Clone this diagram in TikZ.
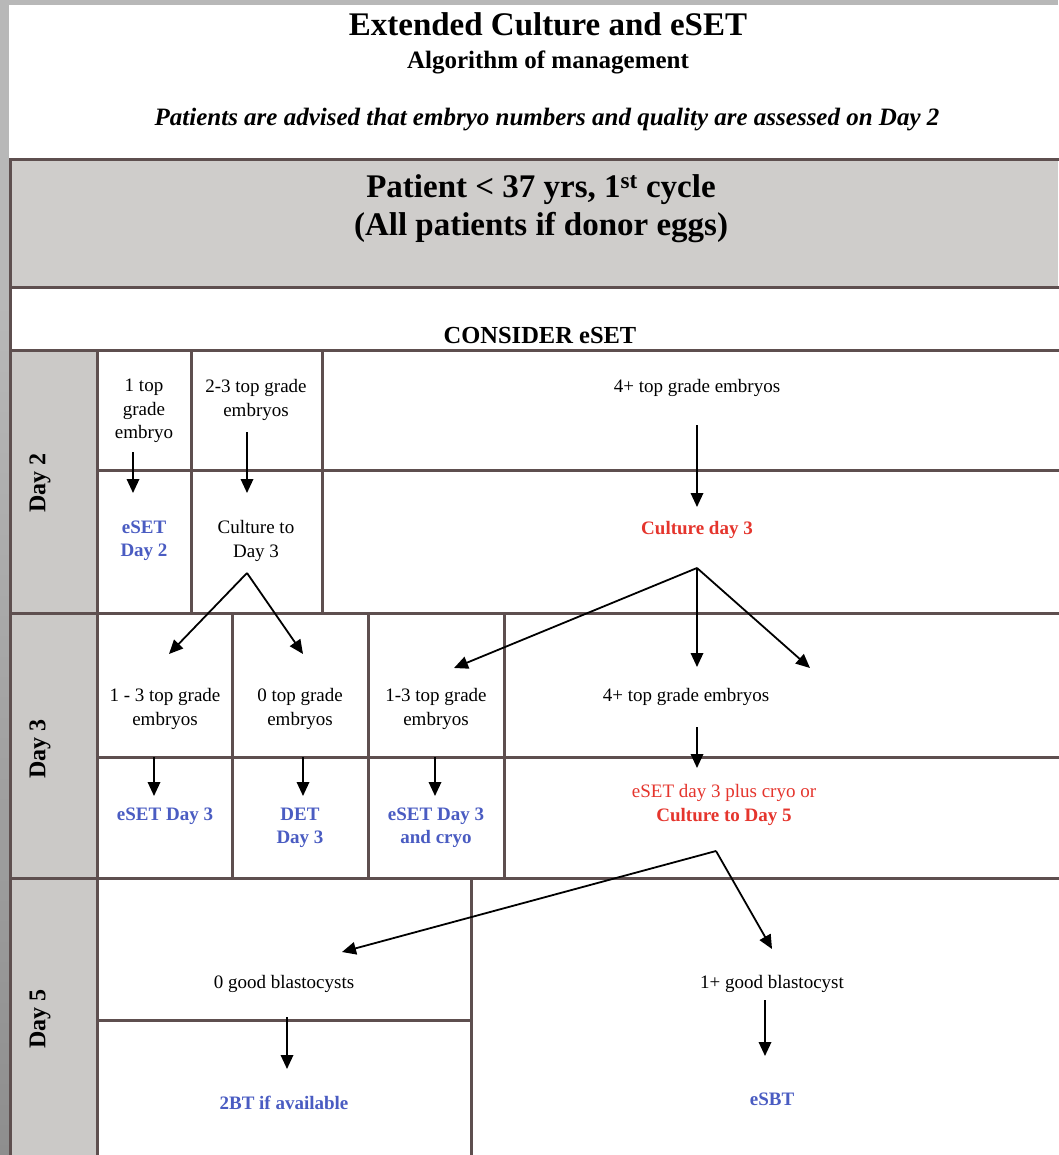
\documentclass[tikz,border=0pt]{standalone}
\usepackage{fontspec}
\setmainfont{Liberation Serif}
\usetikzlibrary{arrows.meta}
\definecolor{gridline}{HTML}{5E4F4F}
\definecolor{hdrgrey}{HTML}{CFCDCB}
\definecolor{daygrey}{HTML}{CBC9C7}
\definecolor{txtblue}{HTML}{4A5CC2}
\definecolor{txtred}{HTML}{E5352D}
\definecolor{framegrey}{HTML}{B8B8B8}
\definecolor{framedark}{HTML}{8E8E8E}
\begin{document}
\begin{tikzpicture}[x=1pt,y=-1pt,
  gridl/.style={draw=gridline,line width=3pt,line cap=rect},
  cell/.style={font=\fontsize{19}{23.5}\selectfont,align=center,inner sep=0pt},
  act/.style={cell,font=\fontsize{19}{23.5}\selectfont\bfseries,text=txtblue},
  redact/.style={cell,text=txtred},
  arr/.style={-{Triangle[length=14pt,width=12.5pt]},line width=1.8pt,black},
  daylab/.style={font=\fontsize{24}{28}\selectfont\bfseries,rotate=90,inner sep=0pt}
]
\useasboundingbox (0,0) rectangle (1058,1155);
% frame
\fill[framegrey] (0,0) rectangle (1058,1155);
\shade[top color=framegrey, bottom color=framedark] (0,300) rectangle (9,1155);
\fill[white] (9,5) rectangle (1058,1155);
% fills
\fill[hdrgrey] (10,160) rectangle (1058,288);
\fill[daygrey] (10,350) rectangle (97,1155);
% grid lines
\draw[gridl] (10,160) -- (1058,160);
\draw[gridl] (10,288) -- (1058,288);
\draw[gridl] (10,350) -- (1058,350);
\draw[gridl] (97,470) -- (1058,470);
\draw[gridl] (10,613) -- (1058,613);
\draw[gridl] (97,757) -- (1058,757);
\draw[gridl] (10,878) -- (1058,878);
\draw[gridl] (97,1020) -- (471,1020);
\draw[gridl] (10,160) -- (10,1155);
\draw[gridl] (97,350) -- (97,1155);
\draw[gridl] (191,350) -- (191,613);
\draw[gridl] (322,350) -- (322,613);
\draw[gridl] (232,613) -- (232,878);
\draw[gridl] (368,613) -- (368,878);
\draw[gridl] (504,613) -- (504,878);
\draw[gridl] (471,878) -- (471,1155);
% titles
\node[anchor=base,inner sep=0pt,font=\fontsize{33}{38}\selectfont\bfseries] (title) at (548,36) {Extended Culture and eSET};
\node[anchor=base,inner sep=0pt,font=\fontsize{25}{30}\selectfont\bfseries] (subtitle) at (548,69) {Algorithm of management};
\node[anchor=base,inner sep=0pt,font=\fontsize{25}{30}\selectfont\bfseries\itshape] (advice) at (547,126) {Patients are advised that embryo numbers and quality are assessed on Day 2};
\node[anchor=base,inner sep=0pt,font=\fontsize{33}{38}\selectfont\bfseries] (patient) at (541,198) {Patient < 37 yrs, 1\textsuperscript{st} cycle};
\node[anchor=base,inner sep=0pt,font=\fontsize{33}{38}\selectfont\bfseries] (donor) at (541,236) {(All patients if donor eggs)};
\node[anchor=base,inner sep=0pt,font=\fontsize{24.5}{29}\selectfont\bfseries] (consider) at (540,343) {CONSIDER eSET};
% day labels
\node[daylab] (d2) at (40,483) {Day 2};
\node[daylab] (d3) at (40,749) {Day 3};
\node[daylab] (d5) at (40,1019) {Day 5};
% day 2
\node[cell] (onetop) at (144,411) {1 top\\grade\\embryo};
\node[cell] (twothree) at (256,400) {2-3 top grade\\embryos};
\node[cell] (fourplus) at (697,388) {4+ top grade embryos};
\node[act] (esetd2) at (144,541) {eSET\\Day 2};
\node[cell] (cult3) at (256,541) {Culture to\\Day 3};
\node[redact,font=\fontsize{19}{23.5}\selectfont\bfseries] (cultday3) at (697,530) {Culture day 3};
% day 3
\node[cell] (onethreeA) at (165,709) {1 - 3 top grade\\embryos};
\node[cell] (zerotop) at (300,709) {0 top grade\\embryos};
\node[cell] (onethreeB) at (436,709) {1-3 top grade\\embryos};
\node[cell] (fourplusB) at (686,697) {4+ top grade embryos};
\node[act] (esetd3) at (165,816) {eSET Day 3};
\node[act] (det3) at (300,828) {DET\\Day 3};
\node[act] (esetcryo) at (436,828) {eSET Day 3\\and cryo};
\node[redact] (plus) at (724,805) {eSET day 3 plus cryo or\\\textbf{Culture to Day 5}};
% day 5
\node[cell] (zerogood) at (284,984) {0 good blastocysts};
\node[cell] (onegood) at (772,984) {1+ good blastocyst};
\node[act] (twobt) at (284,1103) {2BT if available};
\node[act] (esbt) at (772,1099) {eSBT};
% connector coordinates
\coordinate (a1s) at (133,452); \coordinate (a1e) at (133,493);
\coordinate (a2s) at (247,432); \coordinate (a2e) at (247,493);
\coordinate (a3s) at (697,425); \coordinate (a3e) at (697,507);
\coordinate (apexA) at (247,573);
\coordinate (bA1) at (169,654); \coordinate (bA2) at (303,654);
\coordinate (apexB) at (697,568);
\coordinate (bB1) at (454,668); \coordinate (bB2) at (697,667); \coordinate (bB3) at (810,668);
\coordinate (c1s) at (154,757); \coordinate (c1e) at (154,796);
\coordinate (c2s) at (303,757); \coordinate (c2e) at (303,796);
\coordinate (c3s) at (435,757); \coordinate (c3e) at (435,796);
\coordinate (c4s) at (697,727); \coordinate (c4e) at (697,768);
\coordinate (apexC) at (716,851);
\coordinate (bC1) at (342,952); \coordinate (bC2) at (772,949);
\coordinate (e1s) at (287,1017); \coordinate (e1e) at (287,1069);
\coordinate (e2s) at (765,1000); \coordinate (e2e) at (765,1056);
% arrows
\draw[arr] (a1s) -- (a1e);
\draw[arr] (a2s) -- (a2e);
\draw[arr] (a3s) -- (a3e);
\draw[arr] (apexA) -- (bA1);
\draw[arr] (apexA) -- (bA2);
\draw[arr] (apexB) -- (bB1);
\draw[arr] (apexB) -- (bB2);
\draw[arr] (apexB) -- (bB3);
\draw[arr] (c1s) -- (c1e);
\draw[arr] (c2s) -- (c2e);
\draw[arr] (c3s) -- (c3e);
\draw[arr] (c4s) -- (c4e);
\draw[arr] (apexC) -- (bC1);
\draw[arr] (apexC) -- (bC2);
\draw[arr] (e1s) -- (e1e);
\draw[arr] (e2s) -- (e2e);
\end{tikzpicture}
\end{document}
